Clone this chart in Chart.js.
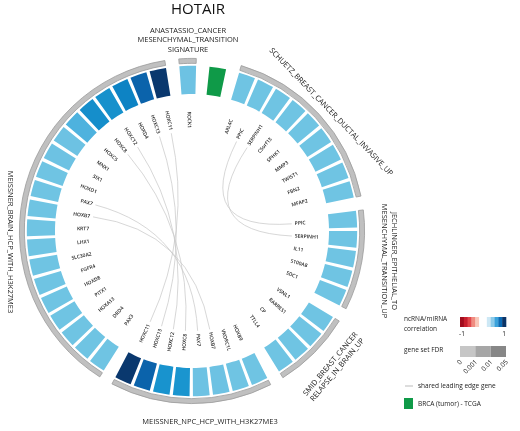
<!DOCTYPE html>
<html>
<head>
<meta charset="utf-8">
<script src="https://cdn.jsdelivr.net/npm/chart.js@4.4.1/dist/chart.umd.min.js"></script>
<style>
  html, body { margin: 0; padding: 0; background: #fff; }
  #wrap { position: relative; width: 520px; height: 431px; }
</style>
</head>
<body>
<div id="wrap"><canvas id="circos" width="520" height="431"></canvas></div>
<script>
// Gene sets, clockwise from the top. Correlation = ncRNA/miRNA correlation per leading edge gene
const anastassioGenes = ['ROCK1'];
const anastassioCorr = [0.33];
const tcgaGenes = [''];
const schuetzGenes = ['ARL4C', 'PPIC', 'SERPINH1', 'C5orf13', 'SPHK1', 'MMP3', 'TWIST1', 'FBN2', 'MFAP2'];
const schuetzCorr = [0.32, 0.32, 0.32, 0.32, 0.32, 0.32, 0.32, 0.32, 0.32];
const jechlingerGenes = ['PPIC', 'SERPINH1', 'IL11', 'S100A8', 'SDC1'];
const jechlingerCorr = [0.32, 0.32, 0.32, 0.32, 0.32];
const smidGenes = ['VSNL1', 'RARRES1', 'CP', 'TTLL4'];
const smidCorr = [0.32, 0.32, 0.32, 0.32];
const npcGenes = ['HOXB9', 'VKORC1L', 'HOXB7', 'PAX7', 'HOXC8', 'HOXC12', 'HOXC13', 'HOXC11'];
const npcCorr = [0.32, 0.32, 0.33, 0.33, 0.6, 0.61, 0.78, 0.95];
const brainGenes = ['PAX3', 'DRD4', 'HOXA13', 'PITX1', 'HOXD8', 'FGFR4', 'SLC30A2', 'LHX1', 'KRT7', 'HOXB7',
                    'PAX7', 'HOXD1', 'SIX1', 'MNX1', 'HOXC5', 'HOXC8', 'HOXC12', 'HOXD4', 'HOXC13', 'HOXC11'];
const brainCorr = [0.32, 0.32, 0.32, 0.32, 0.32, 0.32, 0.32, 0.32, 0.32, 0.32,
                   0.32, 0.32, 0.33, 0.33, 0.46, 0.63, 0.62, 0.68, 0.78, 0.95];

// Set label text (lines)
const anastassioLabel = ['ANASTASSIO_CANCER', 'MESENCHYMAL_TRANSITION', 'SIGNATURE'];
const schuetzLabel = ['SCHUETZ_BREAST_CANCER_DUCTAL_INVASIVE_UP'];
const jechlingerLabel = ['JECHLINGER_EPITHELIAL_TO', 'MESENCHYMAL_TRANSITION_UP'];
const smidLabel = ['SMID_BREAST_CANCER', 'RELAPSE_IN_BRAIN_UP'];
const npcLabel = ['MEISSNER_NPC_HCP_WITH_H3K27ME3'];
const brainLabel = ['MEISSNER_BRAIN_HCP_WITH_H3K27ME3'];

// Legend
const corrLegendColors = ['#a10d1e', '#c81f2e', '#e2474b', '#f08c80', '#f9c8ba', '#ffffff', '#ffffff',
                          '#cde8f5', '#8ccbea', '#3aa2db', '#0b6bb5', '#0b3467'];
const corrTicks = ['-1', '1'];
const fdrColors = ['#c6c6c6', '#a6a6a6', '#878787'];
const fdrTicks = ['0', '0.001', '0.01', '0.05'];

// Styling
const colors = {
    green: '#0f9a48',
    arc: '#c0c0c0',
    arcEdge: '#9a9a9a',
    chord: '#c6c6c6',
    text: '#1e1e1e',
    none: 'rgba(0,0,0,0)'
};
// bar colour stops for correlation
const barStops = [[0, '#ffffff'], [0.3, '#74c6e4'], [0.45, '#52b4df'], [0.6, '#1a95cf'],
                  [0.7, '#0a7fc1'], [0.8, '#0b5ca6'], [1.0, '#0a2c5b']];

function hexToRgb(h) {
    return [parseInt(h.slice(1, 3), 16), parseInt(h.slice(3, 5), 16), parseInt(h.slice(5, 7), 16)];
}
function corrColor(v) {
    for (let i = 1; i < barStops.length; i++) {
        if (v <= barStops[i][0]) {
            const [v0, c0] = barStops[i - 1], [v1, c1] = barStops[i];
            const t = (v - v0) / (v1 - v0);
            const a = hexToRgb(c0), b = hexToRgb(c1);
            const m = a.map((x, k) => Math.round(x + (b[k] - x) * t));
            return `rgb(${m[0]},${m[1]},${m[2]})`;
        }
    }
    return barStops[barStops.length - 1][1];
}

const sets = [
    { genes: anastassioGenes, corr: anastassioCorr },
    { genes: tcgaGenes, marker: true },
    { genes: schuetzGenes, corr: schuetzCorr },
    { genes: jechlingerGenes, corr: jechlingerCorr },
    { genes: smidGenes, corr: smidCorr },
    { genes: npcGenes, corr: npcCorr },
    { genes: brainGenes, corr: brainCorr }
];

// angular units: bar, gap within a set, gap between sets
const BAR = 1, IN_GAP = 0.2, SET_GAP = 0.8;

const barValues = [], barColors = [], barGenes = [];
const arcValues = [], arcColors = [], arcBorderW = [];
sets.forEach(s => {
    s.genes.forEach((g, i) => {
        barValues.push(BAR);
        barColors.push(s.marker ? colors.green : corrColor(s.corr[i]));
        barGenes.push(s.marker ? null : g);
        if (i < s.genes.length - 1) {
            barValues.push(IN_GAP); barColors.push(colors.none); barGenes.push(null);
        }
    });
    barValues.push(SET_GAP); barColors.push(colors.none); barGenes.push(null);

    arcValues.push(s.genes.length * BAR + (s.genes.length - 1) * IN_GAP);
    arcColors.push(s.marker ? colors.none : colors.arc);
    arcBorderW.push(s.marker ? 0 : 0.8);
    arcValues.push(SET_GAP); arcColors.push(colors.none); arcBorderW.push(0);
});

const labelLayout = [
    { lines: anastassioLabel, x: 188, y: 40, rot: 0, lh: 9.5 },
    { lines: schuetzLabel, x: 331, y: 112, rot: 46, lh: 9 },
    { lines: jechlingerLabel, x: 389, y: 261, rot: 90, lh: 10 },
    { lines: smidLabel, x: 334, y: 367, rot: -50, lh: 9 },
    { lines: npcLabel, x: 210, y: 422, rot: 0, lh: 9 },
    { lines: brainLabel, x: 10, y: 242, rot: 90, lh: 9 }
];

const circosText = {
    id: 'circosText',
    afterDraw(chart) {
        const ctx = chart.ctx;
        const bars = chart.getDatasetMeta(2).data;
        const cx = bars[0].x, cy = bars[0].y;
        const mid = el => (el.startAngle + el.endAngle) / 2;

        // chords between genes shared by two sets
        const seen = {};
        barGenes.forEach((g, i) => { if (g) (seen[g] = seen[g] || []).push(i); });
        ctx.save();
        ctx.strokeStyle = colors.chord;
        ctx.lineWidth = 0.7;
        Object.values(seen).filter(l => l.length > 1).forEach(l => {
            const a1 = mid(bars[l[0]]), a2 = mid(bars[l[1]]);
            const r = 100;
            ctx.beginPath();
            ctx.moveTo(cx + r * Math.cos(a1), cy + r * Math.sin(a1));
            ctx.quadraticCurveTo(cx, cy, cx + r * Math.cos(a2), cy + r * Math.sin(a2));
            ctx.stroke();
        });
        ctx.restore();

        // gene labels, radial
        ctx.save();
        ctx.font = '600 5px "Open Sans"';
        ctx.fillStyle = colors.text;
        ctx.textBaseline = 'middle';
        barGenes.forEach((g, i) => {
            if (!g) return;
            const a = mid(bars[i]);
            const r = 103;
            ctx.save();
            ctx.translate(cx, cy);
            if (Math.cos(a) >= 0) {
                ctx.rotate(a);
                ctx.textAlign = 'left';
                ctx.fillText(g, r, 0);
            } else {
                ctx.rotate(a + Math.PI);
                ctx.textAlign = 'right';
                ctx.fillText(g, -r, 0);
            }
            ctx.restore();
        });
        ctx.restore();

        // title
        ctx.save();
        ctx.fillStyle = '#111';
        ctx.textAlign = 'center';
        ctx.textBaseline = 'middle';
        ctx.font = '15px "Open Sans"';
        ctx.fillText('HOTAIR', 198, 10);

        // set labels
        ctx.font = '7.5px "Open Sans"';
        ctx.fillStyle = '#222';
        labelLayout.forEach(L => {
            ctx.save();
            ctx.translate(L.x, L.y);
            ctx.rotate(L.rot * Math.PI / 180);
            const n = L.lines.length;
            L.lines.forEach((t, k) => ctx.fillText(t, 0, (k - (n - 1) / 2) * L.lh));
            ctx.restore();
        });
        ctx.restore();

        // legend
        ctx.save();
        ctx.fillStyle = '#222';
        ctx.font = '6.5px "Open Sans"';
        ctx.textBaseline = 'middle';
        ctx.textAlign = 'left';
        ctx.fillText('ncRNA/miRNA', 404, 319);
        ctx.fillText('correlation', 404, 329);
        const bx = 460, bw = 46;
        const cw = bw / corrLegendColors.length;
        corrLegendColors.forEach((c, i) => {
            ctx.fillStyle = c;
            ctx.fillRect(bx + i * cw, 317, cw + 0.3, 10);
        });
        ctx.fillStyle = '#222';
        ctx.textAlign = 'center';
        ctx.fillText(corrTicks[0], bx + 2, 334);
        ctx.fillText(corrTicks[1], bx + bw - 2, 334);

        ctx.textAlign = 'left';
        ctx.fillText('gene set FDR', 404, 350);
        const fw = bw / fdrColors.length;
        fdrColors.forEach((c, i) => {
            ctx.fillStyle = c;
            ctx.fillRect(bx + i * fw, 346, fw, 11);
        });
        ctx.fillStyle = '#222';
        fdrTicks.forEach((t, i) => {
            ctx.save();
            ctx.translate(bx + i * fw + 1, 361);
            ctx.rotate(-Math.PI / 4);
            ctx.textAlign = 'right';
            ctx.fillText(t, 0, 0);
            ctx.restore();
        });

        ctx.strokeStyle = '#aaa';
        ctx.lineWidth = 0.8;
        ctx.beginPath();
        ctx.moveTo(405, 386); ctx.lineTo(413, 386);
        ctx.stroke();
        ctx.fillText('shared leading edge gene', 418, 386);
        ctx.fillStyle = colors.green;
        ctx.fillRect(404, 398, 9, 11);
        ctx.fillStyle = '#222';
        ctx.fillText('BRCA (tumor) - TCGA', 418, 404);
        ctx.restore();
    }
};

const ctx = document.getElementById('circos').getContext('2d');
const chart = new Chart(ctx, {
    type: 'doughnut',
    data: {
        datasets: [{
            data: arcValues,
            backgroundColor: arcColors,
            borderColor: colors.arcEdge,
            borderWidth: arcBorderW,
            hoverOffset: 0,
            weight: 5
        }, {
            data: [1],
            backgroundColor: [colors.none],
            borderWidth: 0,
            hoverOffset: 0,
            weight: 2.5
        }, {
            data: barValues,
            backgroundColor: barColors,
            borderWidth: 0,
            hoverOffset: 0,
            weight: 28.5
        }]
    },
    options: {
        responsive: false,
        animation: false,
        events: [],
        rotation: -4.4,
        cutout: 137,
        layout: { padding: { left: 19, right: 155, top: 58, bottom: 27 } },
        plugins: { legend: { display: false }, tooltip: { enabled: false } }
    },
    plugins: [circosText]
});
</script>
</body>
</html>
